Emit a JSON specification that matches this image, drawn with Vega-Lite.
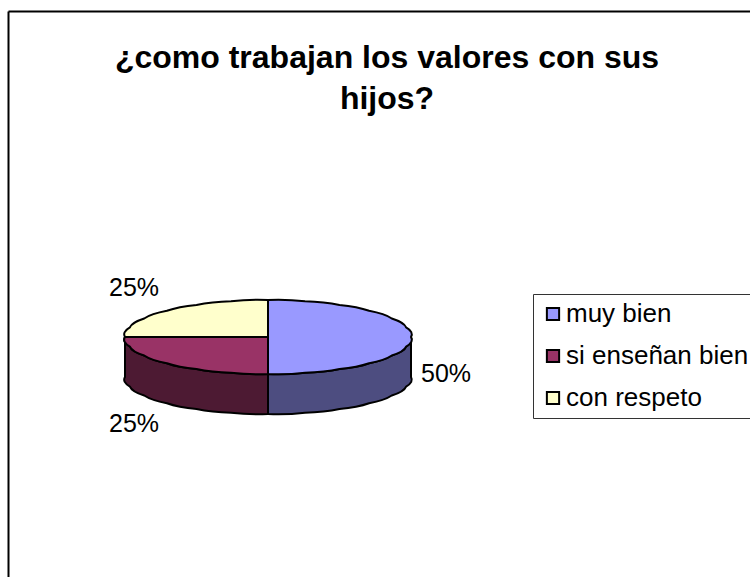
{"$schema":"https://vega.github.io/schema/vega-lite/v6.json","width":742,"height":566,"autosize":{"type":"none"},"padding":{"left":8,"top":11,"right":0,"bottom":0},"background":"white","view":{"stroke":null},"config":{"font":"Liberation Sans","axis":{"domain":true,"domainColor":"black","domainWidth":2,"ticks":false,"labels":false,"grid":false,"title":null}},"title":{"text":["¿como trabajan los valores con sus","hijos?"],"font":"Liberation Sans","fontSize":32,"fontWeight":"bold","color":"black","anchor":"middle","lineHeight":41,"offset":0,"dx":8,"dy":105},"data":{"values":[{"slice":"muy bien","share":0.5},{"slice":"si enseñan bien","share":0.25},{"slice":"con respeto","share":0.25}]},"encoding":{"x":{"datum":0,"type":"quantitative","scale":{"domain":[-260,482]},"axis":{"orient":"top"}},"y":{"datum":0,"type":"quantitative","scale":{"domain":[-240,326]},"axis":{"orient":"left"}}},"layer":[{"transform":[{"filter":"datum.slice === 'muy bien'"}],"mark":{"type":"point","filled":true,"fill":"#4D4D80","stroke":"black","strokeWidth":2,"opacity":1,"size":4,"shape":"M143 0 Q146 5 138.1 9.6 Q136.1 14.6 123.8 18.5 Q116.8 23.2 101.1 26.2 Q89.7 30.2 71.5 32 Q56.4 35.2 37 35.7 Q19.2 37.8 0 37 L0 77 Q19.2 77.8 37 75.7 Q56.4 75.2 71.5 72 Q89.7 70.2 101.1 66.2 Q116.8 63.2 123.8 58.5 Q136.1 54.6 138.1 49.6 Q146 45 143 40 Z"}},{"transform":[{"filter":"datum.slice === 'si enseñan bien'"}],"mark":{"type":"point","filled":true,"fill":"#4D1A33","stroke":"black","strokeWidth":2,"opacity":1,"size":4,"shape":"M-143 0 Q-146 5 -138.1 9.6 Q-136.1 14.6 -123.8 18.5 Q-116.8 23.2 -101.1 26.2 Q-89.7 30.2 -71.5 32 Q-56.4 35.2 -37 35.7 Q-19.2 37.8 0 37 L0 77 Q-19.2 77.8 -37 75.7 Q-56.4 75.2 -71.5 72 Q-89.7 70.2 -101.1 66.2 Q-116.8 63.2 -123.8 58.5 Q-136.1 54.6 -138.1 49.6 Q-146 45 -143 40 Z"}},{"transform":[{"filter":"datum.slice === 'muy bien'"}],"mark":{"type":"point","filled":true,"stroke":"black","strokeWidth":2,"opacity":1,"size":4,"shape":"M0 -37 Q19.2 -37.8 37 -35.7 Q56.4 -35.2 71.5 -32 Q89.7 -30.2 101.1 -26.2 Q116.8 -23.2 123.8 -18.5 Q136.1 -14.6 138.1 -9.6 Q146 -5 143 0 Q146 5 138.1 9.6 Q136.1 14.6 123.8 18.5 Q116.8 23.2 101.1 26.2 Q89.7 30.2 71.5 32 Q56.4 35.2 37 35.7 Q19.2 37.8 0 37 Z"},"encoding":{"color":{"field":"slice","type":"nominal","scale":{"domain":["muy bien","si enseñan bien","con respeto"],"range":["#9999FF","#993366","#FFFFCC"]},"legend":{"orient":"none","legendX":525,"legendY":283,"title":null,"symbolType":"square","symbolSize":150,"symbolStrokeColor":"black","symbolStrokeWidth":2,"symbolOpacity":1,"labelFont":"Liberation Sans","labelFontSize":26,"labelColor":"black","labelLimit":400,"labelOffset":0,"rowPadding":16,"padding":7,"strokeColor":"#333333","fillColor":"white"}}}},{"transform":[{"filter":"datum.slice === 'si enseñan bien'"}],"mark":{"type":"point","filled":true,"stroke":"black","strokeWidth":2,"opacity":1,"size":4,"shape":"M0 0 L-143 0 Q-146 5 -138.1 9.6 Q-136.1 14.6 -123.8 18.5 Q-116.8 23.2 -101.1 26.2 Q-89.7 30.2 -71.5 32 Q-56.4 35.2 -37 35.7 Q-19.2 37.8 0 37 Z"},"encoding":{"color":{"field":"slice","type":"nominal"}}},{"transform":[{"filter":"datum.slice === 'con respeto'"}],"mark":{"type":"point","filled":true,"stroke":"black","strokeWidth":2,"opacity":1,"size":4,"shape":"M0 0 L-143 0 Q-146 -5 -138.1 -9.6 Q-136.1 -14.6 -123.8 -18.5 Q-116.8 -23.2 -101.1 -26.2 Q-89.7 -30.2 -71.5 -32 Q-56.4 -35.2 -37 -35.7 Q-19.2 -37.8 0 -37 Z"},"encoding":{"color":{"field":"slice","type":"nominal"}}},{"transform":[{"filter":"datum.slice === 'muy bien'"}],"mark":{"type":"text","font":"Liberation Sans","fontSize":25,"color":"black","dx":178,"dy":37},"encoding":{"text":{"field":"share","format":".0%"}}},{"transform":[{"filter":"datum.slice === 'si enseñan bien'"}],"mark":{"type":"text","font":"Liberation Sans","fontSize":25,"color":"black","dx":-134,"dy":87},"encoding":{"text":{"field":"share","format":".0%"}}},{"transform":[{"filter":"datum.slice === 'con respeto'"}],"mark":{"type":"text","font":"Liberation Sans","fontSize":25,"color":"black","dx":-134,"dy":-49},"encoding":{"text":{"field":"share","format":".0%"}}}]}
